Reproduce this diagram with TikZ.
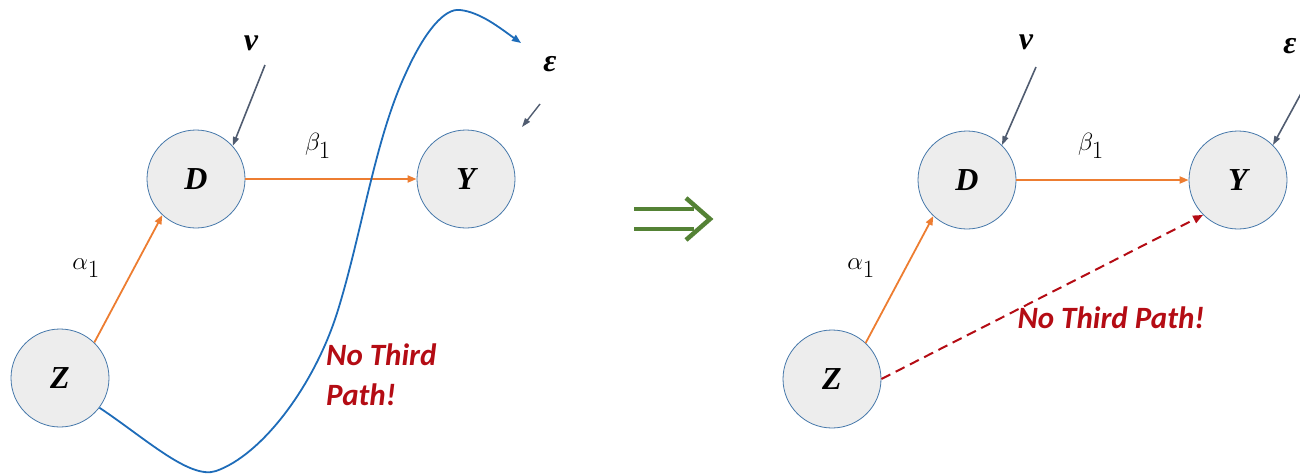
\documentclass[tikz,border=0pt]{standalone}
\usepackage{fontspec}
\setmainfont{Liberation Serif}
\newfontfamily\calibfont{Carlito}
\usetikzlibrary{arrows.meta}
\definecolor{nodefill}{RGB}{237,237,237}
\definecolor{nodeedge}{RGB}{70,120,170}
\definecolor{orng}{RGB}{237,125,49}
\definecolor{slate}{RGB}{80,92,112}
\definecolor{bluec}{RGB}{30,108,185}
\definecolor{dred}{RGB}{180,12,20}
\definecolor{grn}{RGB}{84,130,53}
\begin{document}
\begin{tikzpicture}[x=1pt,y=-1pt,
  var/.style={circle, draw=nodeedge, fill=nodefill, line width=0.8pt, minimum size=98pt, inner sep=0pt,
    font=\fontsize{32}{36}\selectfont\bfseries\itshape},
  orarrow/.style={draw=orng, line width=1.8pt, -{Triangle[length=9pt,width=7pt]}},
  errarrow/.style={draw=slate, line width=1.6pt, -{Triangle[length=9pt,width=6pt]}},
  mlbl/.style={font=\fontsize{34}{38}\selectfont, inner sep=0pt},
  glbl/.style={font=\fontsize{32}{36}\selectfont\bfseries\itshape, inner sep=0pt},
  redtxt/.style={text=dred, font=\calibfont\fontsize{31}{40}\selectfont\bfseries\itshape, inner sep=0pt}
]
\useasboundingbox (0,0) rectangle (1300,474);

% ---------- left panel ----------
\node[var] (D) at (196,179) {D};
\node[var] (Y) at (466,179) {Y};
\node[var] (Z) at (60,378) {Z};

\node[glbl] (nu) at (251,43) {ν};
\node[glbl] (eps) at (550,64) {ε};
\node[mlbl] (b1) at (318,146) {$\beta_1$};
\node[mlbl] (a1) at (86,268) {$\alpha_1$};

\coordinate (nutail) at (265,65);
\coordinate (epstail) at (540,104);
\coordinate (epshead) at (522,127);

\draw[orarrow] (Z.46) -- (D.227);
\draw[orarrow] (D.east) -- (Y.west);
\draw[errarrow] (nutail) -- (D.42);
\draw[errarrow, line width=1.4pt] (epstail) -- (epshead);

\coordinate (curveend) at (521,43);
\draw[bluec, line width=1.8pt, -{Triangle[length=9pt,width=7pt]}]
  (Z.-37) .. controls (145,438) and (190,480) .. (216,471)
  .. controls (262,455) and (315,385) .. (338,310)
  .. controls (362,232) and (375,140) .. (405,75)
  .. controls (425,30) and (445,8) .. (460,10)
  .. controls (480,12) and (500,28) .. (curveend);

\node[redtxt, anchor=north west, align=left] (np) at (326,344) {No Third\\Path!};

% ---------- implication arrow ----------
\draw[grn, line width=4.5pt] (634,209) -- (694,209);
\draw[grn, line width=4.5pt] (634,229) -- (694,229);
\draw[grn, line width=4.5pt, line join=miter] (686,198) -- (710,219) -- (686,240);

% ---------- right panel ----------
\node[var] (D2) at (967,180) {D};
\node[var] (Y2) at (1238,180) {Y};
\node[var] (Z2) at (832,379) {Z};

\node[glbl] (nu2) at (1026,42) {ν};
\node[glbl] (eps2) at (1290,46) {ε};
\node[mlbl] (b2) at (1091,146) {$\beta_1$};
\node[mlbl] (a2) at (861,268) {$\alpha_1$};

\coordinate (nutail2) at (1036,67);
\coordinate (epstail2) at (1310,77);

\draw[orarrow] (Z2.47) -- (D2.227);
\draw[orarrow] (D2.east) -- (Y2.west);
\draw[errarrow] (nutail2) -- (D2.45);
\draw[errarrow] (epstail2) -- (Y2.45);

\draw[dred, line width=2pt, dash pattern=on 10pt off 6pt, -{Triangle[length=10pt,width=8pt]}] (Z2.east) -- (Y2.225);
\node[redtxt] (np2) at (1111,318) {No Third Path!};
\end{tikzpicture}
\end{document}
